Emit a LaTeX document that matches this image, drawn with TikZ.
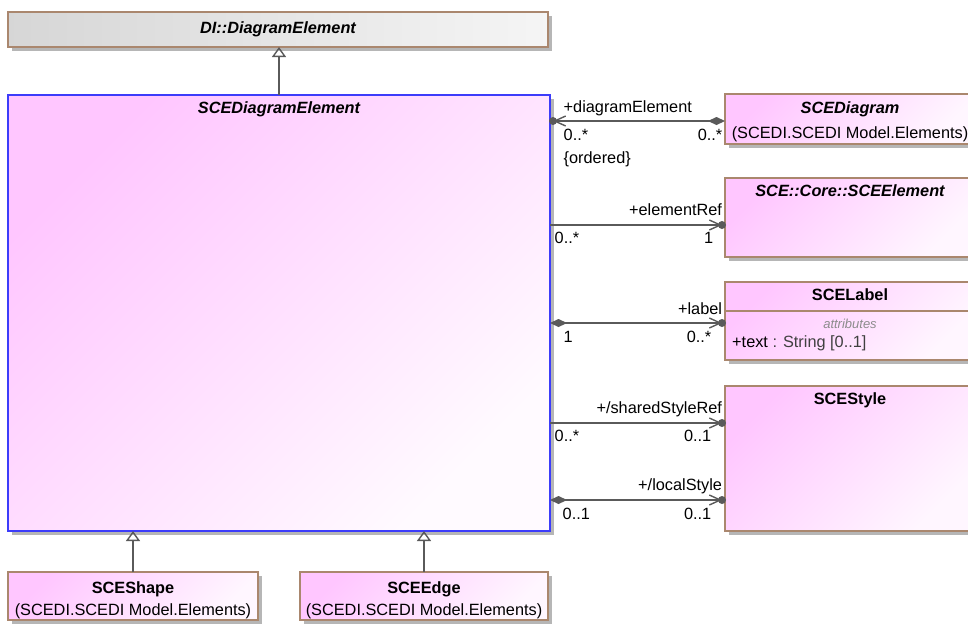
\documentclass[tikz,border=0pt]{standalone}
\usepackage{fontspec}
\setmainfont{Liberation Sans}
\usetikzlibrary{arrows.meta,positioning,shadows}

\definecolor{classpink}{RGB}{255,198,255}
\definecolor{classborder}{RGB}{170,135,110}
\definecolor{rootblue}{RGB}{60,60,250}
\definecolor{assocgray}{RGB}{90,90,90}
\definecolor{shadowgray}{RGB}{182,182,182}

\newcommand{\umlfont}{\fontsize{16.3}{23}\selectfont}

\tikzset{
	classbox/.style={
		anchor=north west, inner sep=0pt, outer sep=0pt,
		draw=classborder, line width=1.4pt,
		top color=classpink, bottom color=classpink!15, shading angle=45,
		drop shadow={shadow xshift=4pt, shadow yshift=-4pt, fill=shadowgray, opacity=1},
		align=center, font=\umlfont
	},
	classtitle/.style={inner sep=0pt, text height=12pt, text depth=3.5pt, font=\umlfont\bfseries},
	role/.style={inner sep=0pt, font=\umlfont},
	assoc/.style={draw=assocgray, line width=1.4pt},
	general/.style={draw=assocgray, line width=1.4pt, -{Triangle[open,length=10pt,width=14pt]}},
	compdiamond/.tip={Diamond[length=17pt,width=8pt]},
	navbarb/.tip={Straight Barb[length=11pt,width=10pt]}
}

\begin{document}
\begin{tikzpicture}[x=1pt, y=-1pt]
	\useasboundingbox (0,0) rectangle (968,625);
	\clip (0,0) rectangle (968,625);

	% class boxes
	\node[classbox, minimum width=540pt, minimum height=35pt, left color=black!16, right color=black!4] (di) at (8,12) {\bfseries\itshape DI::DiagramElement};
	\node[classbox, draw=rootblue, minimum width=542pt, minimum height=436pt, bottom color=classpink!8, shading angle=45] (diagramelem) at (8,95) {};
	\node[classtitle, font=\umlfont\bfseries\itshape, below=6.5pt of diagramelem.north] (diagramelemtitle) {SCEDiagramElement};

	\node[classbox, minimum width=250pt, minimum height=50pt] (scediagram) at (725,94) {};
	\node[classtitle, font=\umlfont\bfseries\itshape, below=7.3pt of scediagram.north] (scediagramtitle) {SCEDiagram};
	\node[role, anchor=base] (scediagrampkg) at ([yshift=-44pt]scediagram.north) {(SCEDI.SCEDI Model.Elements)};
	\node[classbox, minimum width=250pt, minimum height=79pt] (sceelement) at (725,178) {};
	\node[classtitle, font=\umlfont\bfseries\itshape, below=6.5pt of sceelement.north] (sceelementtitle) {SCE::Core::SCEElement};
	\node[classbox, minimum width=250pt, minimum height=78pt] (scelabel) at (725,282) {};
	\node[classtitle, below=6.5pt of scelabel.north] (scelabeltitle) {SCELabel};
	\draw[classborder, line width=1.4pt] ([yshift=-29pt]scelabel.north west) -- ([yshift=-29pt]scelabel.north east);
	\node[inner sep=0pt, anchor=base, text=black!45, font=\fontsize{13}{15}\selectfont\itshape] (attrhead) at ([yshift=-46.5pt]scelabel.north) {attributes};
	\node[role, anchor=base west] (textattr) at ([xshift=7pt, yshift=-65pt]scelabel.north west) {+text {\color{black!75}: String [0..1]}};
	\node[classbox, minimum width=250pt, minimum height=145pt] (scestyle) at (725,386) {};
	\node[classtitle, below=6.5pt of scestyle.north] (scestyletitle) {SCEStyle};

	\node[classbox, minimum width=250pt, minimum height=48pt] (sceshape) at (8,572) {};
	\node[classtitle, below=9pt of sceshape.north] (sceshapetitle) {SCEShape};
	\node[role, anchor=base] (sceshapepkg) at ([yshift=-43pt]sceshape.north) {(SCEDI.SCEDI Model.Elements)};
	\node[classbox, minimum width=248pt, minimum height=48pt] (sceedge) at (300,572) {};
	\node[classtitle, below=9pt of sceedge.north] (sceedgetitle) {SCEEdge};
	\node[role, anchor=base] (sceedgepkg) at ([yshift=-43pt]sceedge.north) {(SCEDI.SCEDI Model.Elements)};

	% generalizations
	\draw[general] (diagramelem.north) -- (diagramelem.north |- di.south);
	\draw[general] (sceshape.north) -- (sceshape.north |- diagramelem.south);
	\draw[general] (sceedge.north) -- (sceedge.north |- diagramelem.south);

	% association ends on the right hand boxes
	\coordinate (c1) at ([yshift=-27pt]scediagram.north west);
	\coordinate (c2) at ([yshift=-47pt]sceelement.north west);
	\coordinate (c3) at ([yshift=-41pt]scelabel.north west);
	\coordinate (c4) at ([yshift=-37pt]scestyle.north west);
	\coordinate (c5) at ([yshift=-114pt]scestyle.north west);

	\draw[assoc, {navbarb}-{compdiamond}, shorten <=3pt] (diagramelem.east |- c1) -- (c1)
		node[role, pos=0, anchor=base west, xshift=13pt, yshift=9pt] {+diagramElement}
		node[role, pos=0, anchor=base west, xshift=13pt, yshift=-19pt] {0..*}
		node[role, pos=0, anchor=base west, xshift=13pt, yshift=-42pt] {\{ordered\}}
		node[role, pos=1, anchor=base east, xshift=-2pt, yshift=-19pt] {0..*};
	\fill[assocgray] ([xshift=3pt]diagramelem.east |- c1) circle (4pt);

	\draw[assoc, -{navbarb}, shorten >=3pt] (diagramelem.east |- c2) -- (c2)
		node[role, pos=1, anchor=base east, xshift=-2.3pt, yshift=9.5pt] {+elementRef}
		node[role, pos=0, anchor=base west, xshift=4pt, yshift=-18pt] {0..*}
		node[role, pos=1, anchor=base east, xshift=-11pt, yshift=-18pt] {1};
	\fill[assocgray] ([xshift=-3pt]c2) circle (4pt);

	\draw[assoc, {compdiamond}-{navbarb}, shorten >=3pt] (diagramelem.east |- c3) -- (c3)
		node[role, pos=1, anchor=base east, xshift=-2.3pt, yshift=9pt] {+label}
		node[role, pos=0, anchor=base west, xshift=13pt, yshift=-19pt] {1}
		node[role, pos=1, anchor=base east, xshift=-13pt, yshift=-19pt] {0..*};
	\fill[assocgray] ([xshift=-3pt]c3) circle (4pt);

	\draw[assoc, -{navbarb}, shorten >=3pt] (diagramelem.east |- c4) -- (c4)
		node[role, pos=1, anchor=base east, xshift=-2.3pt, yshift=9.5pt] {+/sharedStyleRef}
		node[role, pos=0, anchor=base west, xshift=4pt, yshift=-18.5pt] {0..*}
		node[role, pos=1, anchor=base east, xshift=-13pt, yshift=-18.5pt] {0..1};
	\fill[assocgray] ([xshift=-3pt]c4) circle (4pt);

	\draw[assoc, {compdiamond}-{navbarb}, shorten >=3pt] (diagramelem.east |- c5) -- (c5)
		node[role, pos=1, anchor=base east, xshift=-2.3pt, yshift=9.5pt] {+/localStyle}
		node[role, pos=0, anchor=base west, xshift=12pt, yshift=-19pt] {0..1}
		node[role, pos=1, anchor=base east, xshift=-13pt, yshift=-19pt] {0..1};
	\fill[assocgray] ([xshift=-3pt]c5) circle (4pt);
\end{tikzpicture}
\end{document}
